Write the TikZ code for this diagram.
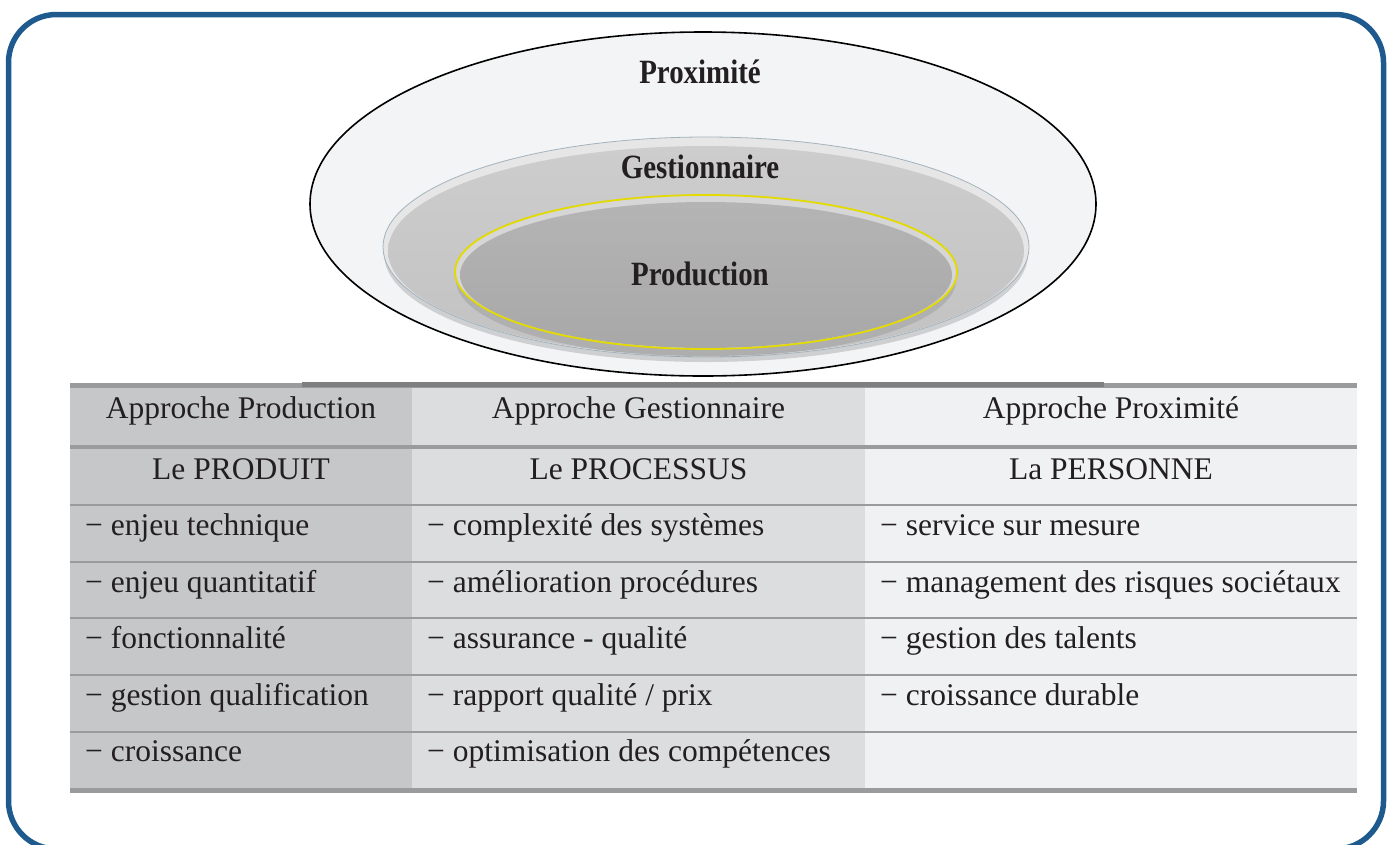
\documentclass[tikz,border=0pt]{standalone}
\usepackage{fontspec}
\setmainfont{Liberation Serif}
\usetikzlibrary{shapes.geometric}
\definecolor{frameblue}{HTML}{1F5A8E}
\definecolor{textdark}{HTML}{231F20}
\definecolor{colA}{HTML}{C6C7C9}
\definecolor{colB}{HTML}{DCDDDF}
\definecolor{colC}{HTML}{F0F1F3}
\definecolor{rulegray}{HTML}{9A9B9D}
\definecolor{bargray}{HTML}{7F7F7F}
\definecolor{outerfill}{HTML}{F3F4F5}
\definecolor{midrim}{HTML}{E6E6E6}
\definecolor{midtop}{HTML}{CDCDCD}
\definecolor{midbot}{HTML}{C2C2C2}
\definecolor{midline}{HTML}{A3B3BD}
\definecolor{inrim}{HTML}{D6D6D6}
\definecolor{intop}{HTML}{B4B4B4}
\definecolor{inbot}{HTML}{A8A8A8}
\definecolor{inline}{HTML}{E3DA00}
\tikzset{
  celltext/.style={font=\fontsize{31.5}{36}\selectfont, text=textdark, inner sep=0pt, anchor=base west},
  headtext/.style={font=\fontsize{31.5}{36}\selectfont, text=textdark, inner sep=0pt, anchor=base},
  ringlabel/.style={font=\bfseries\fontsize{34}{40}\selectfont, text=textdark, inner sep=0pt},
  thinrule/.style={rulegray, line width=2pt},
  thickrule/.style={rulegray, line width=4.5pt}
}
\newcommand{\cond}[1]{\scalebox{0.85}[1]{#1}}
\begin{document}
\begin{tikzpicture}[x=1pt,y=-1pt]
\useasboundingbox (0,0) rectangle (1394,844);
% frame
\draw[frameblue, line width=5.5pt, rounded corners=48pt] (8.5,14.5) rectangle (1383.5,849);
% outer ellipse
\fill[outerfill] (703,204) ellipse [x radius=393, y radius=172];
% middle ellipse
\fill[black, opacity=0.15] (706,254) ellipse [x radius=322, y radius=108];
\fill[midrim] (706,247) ellipse [x radius=323, y radius=110];
\shade[top color=midtop, bottom color=midbot] (706,251) ellipse [x radius=318, y radius=105];
\draw[midline, line width=0.8pt] (706,247) ellipse [x radius=323, y radius=110];
% inner ellipse
\fill[black, opacity=0.10] (706,280) ellipse [x radius=250, y radius=77];
\fill[inrim] (706,272) ellipse [x radius=251, y radius=77];
\shade[top color=intop, bottom color=inbot] (706,275) ellipse [x radius=246, y radius=73];
\draw[inline, line width=1.8pt] (706,272) ellipse [x radius=251, y radius=77];
\draw[black, line width=1.6pt] (703,204) ellipse [x radius=393, y radius=172];
\node[ringlabel] (lprox) at (700,72) {\cond{Proximité}};
\node[ringlabel] (lgest) at (700,167) {\cond{Gestionnaire}};
\node[ringlabel] (lprod) at (700,274) {\cond{Production}};
% table columns
\fill[colA] (70,385) rectangle (412,790);
\fill[colB] (412,385) rectangle (865,790);
\fill[colC] (865,385) rectangle (1357,790);
% rules
\foreach \yy in {505,562,618,675,732} {\draw[thinrule] (70,\yy) -- (1357,\yy);}
\draw[thickrule] (70,447) -- (1357,447);
\draw[rulegray, line width=4.5pt] (70,385.5) -- (1357,385.5);
\draw[bargray, line width=5pt] (302,384.5) -- (1104,384.5);
\draw[rulegray, line width=5pt] (70,790.5) -- (1357,790.5);
% header
\node[headtext] (h1) at (241,418) {Approche Production};
\node[headtext] (h2) at (638.5,418) {Approche Gestionnaire};
\node[headtext] (h3) at (1111,418) {Approche Proximité};
\node[headtext] (s1) at (241,479) {Le PRODUIT};
\node[headtext] (s2) at (638.5,479) {Le PROCESSUS};
\node[headtext] (s3) at (1111,479) {La PERSONNE};
% column 1
\node[celltext] (a1) at (85,535) {− enjeu technique};
\node[celltext] (a2) at (85,592) {− enjeu quantitatif};
\node[celltext] (a3) at (85,648) {− fonctionnalité};
\node[celltext] (a4) at (85,705) {− gestion qualification};
\node[celltext] (a5) at (85,761) {− croissance};
% column 2
\node[celltext] (b1) at (427,535) {− complexité des systèmes};
\node[celltext] (b2) at (427,592) {− amélioration procédures};
\node[celltext] (b3) at (427,648) {− assurance - qualité};
\node[celltext] (b4) at (427,705) {− rapport qualité / prix};
\node[celltext] (b5) at (427,761) {− optimisation des compétences};
% column 3
\node[celltext] (c1) at (880,535) {− service sur mesure};
\node[celltext] (c2) at (880,592) {− management des risques sociétaux};
\node[celltext] (c3) at (880,648) {− gestion des talents};
\node[celltext] (c4) at (880,705) {− croissance durable};
\end{tikzpicture}
\end{document}
